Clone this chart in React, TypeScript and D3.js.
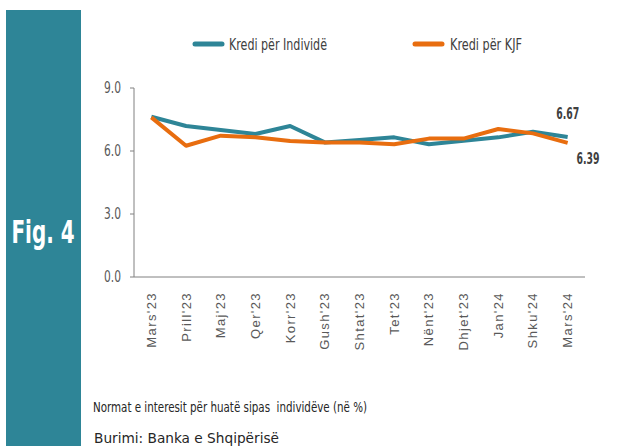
import React from "react";
import * as d3 from "d3";

const months = ["Mars'23","Prill'23","Maj'23","Qer'23","Korr'23","Gush'23","Shtat'23","Tet'23","Nënt'23","Dhjet'23","Jan'24","Shku'24","Mars'24"];
const individe = [7.63, 7.19, 7.0, 6.81, 7.19, 6.41, 6.52, 6.65, 6.32, 6.49, 6.65, 6.92, 6.67];
const kjf = [7.6, 6.25, 6.73, 6.65, 6.48, 6.4, 6.4, 6.32, 6.59, 6.59, 7.05, 6.84, 6.39];
const yTicks = [0, 3, 6, 9];
const seriesNames = ["Kredi për Individë", "Kredi për KJF"];

const TEAL = "#2e8597";
const ORANGE = "#e86d0f";
const NARROW = "'Liberation Sans Narrow', 'DejaVu Sans Condensed', 'Roboto Condensed', sans-serif";

export default function App() {
  const x = d3.scaleBand<string>().domain(months).range([134, 585]);
  const y = d3.scaleLinear().domain([0, 9]).range([277, 88]);
  const cx = (m: string) => (x(m) as number) + x.bandwidth() / 2;
  const line = d3.line<number>().x((_, i) => cx(months[i])).y((v) => y(v));

  return (
    <svg width={634} height={446} style={{ position: "absolute", left: 0, top: 0, background: "#fff" }}>
      <rect x={6} y={10} width={75} height={436} fill={TEAL} />
      <text x={43} y={243} textAnchor="middle" fill="#fff" fontWeight="bold" fontFamily={NARROW} fontSize={32} textLength={63} lengthAdjust="spacingAndGlyphs">Fig. 4</text>

      {/* legend */}
      <line x1={195} x2={222} y1={44} y2={44} stroke={TEAL} strokeWidth={5} strokeLinecap="round" />
      <text x={229} y={49.5} fill="#404040" fontFamily={NARROW} fontSize={15.5} textLength={98} lengthAdjust="spacingAndGlyphs">{seriesNames[0]}</text>
      <line x1={415} x2={442} y1={44} y2={44} stroke={ORANGE} strokeWidth={5} strokeLinecap="round" />
      <text x={450} y={49.5} fill="#404040" fontFamily={NARROW} fontSize={15.5} textLength={72} lengthAdjust="spacingAndGlyphs">{seriesNames[1]}</text>

      {/* axes */}
      <line x1={134} x2={134} y1={88} y2={277} stroke="#808080" strokeWidth={1} />
      <line x1={134} x2={585} y1={277} y2={277} stroke="#808080" strokeWidth={1} />
      {yTicks.map((t) => (
        <g key={t}>
          <line x1={130} x2={134} y1={y(t)} y2={y(t)} stroke="#808080" />
          <text x={121} y={y(t) + 5} textAnchor="end" fill="#595959" fontFamily={NARROW} fontSize={15} textLength={17} lengthAdjust="spacingAndGlyphs">{t.toFixed(1)}</text>
        </g>
      ))}

      {/* x labels */}
      {months.map((m) => (
        <text key={m} transform={`translate(${cx(m) + 4.5},292) rotate(-90)`} textAnchor="end" fill="#595959" fontFamily="'Liberation Sans', Arial, sans-serif" fontSize={13} letterSpacing={1.4}>{m}</text>
      ))}

      {/* lines */}
      <path d={line(individe) || ""} fill="none" stroke={TEAL} strokeWidth={4} strokeLinejoin="round" />
      <path d={line(kjf) || ""} fill="none" stroke={ORANGE} strokeWidth={4} strokeLinejoin="round" />

      {/* end labels */}
      <text x={cx(months[12])} y={y(individe[12]) - 18} textAnchor="middle" fill="#404040" fontWeight="bold" fontFamily={NARROW} fontSize={16} textLength={23} lengthAdjust="spacingAndGlyphs">{individe[12].toFixed(2)}</text>
      <text x={588} y={y(kjf[12]) + 21} textAnchor="middle" fill="#404040" fontWeight="bold" fontFamily={NARROW} fontSize={16} textLength={23} lengthAdjust="spacingAndGlyphs">{kjf[12].toFixed(2)}</text>

      {/* captions */}
      <text x={93} y={412} fill="#262626" fontFamily={NARROW} fontSize={14} textLength={274} lengthAdjust="spacingAndGlyphs" style={{ whiteSpace: "pre" }}>Normat e interesit për huatë sipas  individëve (në %)</text>
      <text x={94} y={443} fill="#262626" fontFamily={NARROW} fontSize={14} textLength={185} lengthAdjust="spacingAndGlyphs">Burimi: Banka e Shqipërisë</text>
    </svg>
  );
}
